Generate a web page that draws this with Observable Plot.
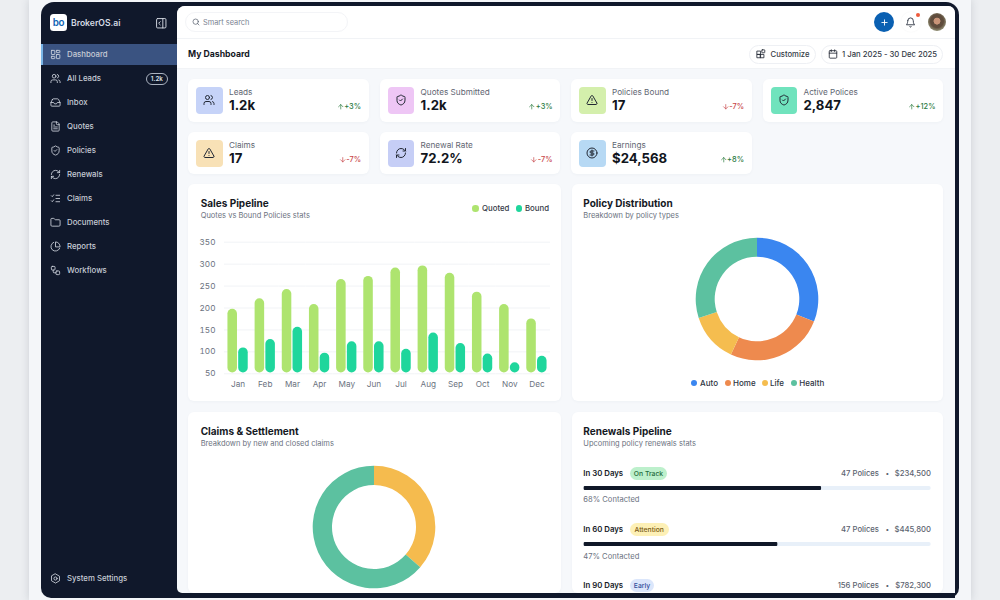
<!DOCTYPE html>
<html lang="en">
<head>
<meta charset="utf-8">
<title>BrokerOS.ai dashboard</title>
<script src="https://cdn.jsdelivr.net/npm/d3@7"></script>
<script src="https://cdn.jsdelivr.net/npm/@observablehq/plot@0.6"></script>
<style>
html,body{margin:0;padding:0;width:1000px;height:600px;overflow:hidden;background:#eceef1;font-family:Inter,"Noto Sans",sans-serif;-webkit-font-smoothing:antialiased}
#page{position:relative;width:1000px;height:600px;overflow:hidden}
.a{position:absolute;box-sizing:border-box}
.t{position:absolute;white-space:nowrap;transform:translateY(-50%);line-height:1}
.card{position:absolute;box-sizing:border-box;background:#fff;border-radius:6px;box-shadow:0 1px 3px rgba(30,50,90,.035)}
svg.i{position:absolute;fill:none;stroke:currentColor;stroke-width:2;stroke-linecap:round;stroke-linejoin:round}
.p{position:absolute;line-height:0}
.p svg{display:block;overflow:visible}
</style>
</head>
<body>
<div id="page"></div>
<script>
// ---------- chart data ----------
const months = ["Jan","Feb","Mar","Apr","May","Jun","Jul","Aug","Sep","Oct","Nov","Dec"];
const quoted = [197,221,242,208,265,272,291,296,279,236,208,175];
const bound = [109,128,156,97,123,123,106,143,119,95,75,90];
const salesSeries = ["Quoted","Bound"];
const salesColors = ["#aee46f","#1fd69c"];
const salesTicks = [50,100,150,200,250,300,350];

const policyTypes = ["Auto","Home","Life","Health"];
const policyShare = [31,26,13,30];
const policyColors = ["#3a86f0","#ee8a4e","#f5bd4f","#5cc1a0"];

const claimTypes = ["New","Closed"];
const claimShare = [36.4,63.6];
const claimColors = ["#f5bb4e","#5cc1a0"];

const renewalLabels = ["In 30 Days","In 60 Days","In 90 Days"];
const renewalStatus = ["On Track","Attention","Early"];
const renewalPolicies = ["47 Polices","47 Polices","156 Polices"];
const renewalAmounts = ["$234,500","$445,800","$782,300"];
const renewalContacted = ["68% Contacted","47% Contacted",""];
const renewalBars = [68.4,55.8];

const kpiLabels = ["Leads","Quotes Submitted","Policies Bound","Active Polices","Claims","Renewal Rate","Earnings"];
const kpiValues = ["1.2k","1.2k","17","2,847","17","72.2%","$24,568"];
const kpiDeltas = ["+3%","+3%","-7%","+12%","-7%","-7%","+8%"];
const navItems = ["Dashboard","All Leads","Inbox","Quotes","Policies","Renewals","Claims","Documents","Reports","Workflows"];

// ---------- icons ----------
const I = {
 users:'<path d="M16 21v-2a4 4 0 0 0-4-4H6a4 4 0 0 0-4 4v2"/><circle cx="9" cy="7" r="4"/><path d="M22 21v-2a4 4 0 0 0-3-3.87"/><path d="M16 3.13a4 4 0 0 1 0 7.75"/>',
 shield:'<path d="M20 13c0 5-3.5 7.5-7.66 8.95a1 1 0 0 1-.67-.01C7.5 20.5 4 18 4 13V6a1 1 0 0 1 1-1c2 0 4.5-1.2 6.24-2.72a1.17 1.17 0 0 1 1.52 0C14.51 3.81 17 5 19 5a1 1 0 0 1 1 1z"/><path d="m9 12 2 2 4-4"/>',
 warn:'<path d="m21.73 18-8-14a2 2 0 0 0-3.48 0l-8 14A2 2 0 0 0 4 21h16a2 2 0 0 0 1.73-3"/><path d="M12 9v4"/><path d="M12 17h.01"/>',
 refresh:'<path d="M3 12a9 9 0 0 1 9-9 9.75 9.75 0 0 1 6.74 2.74L21 8"/><path d="M21 3v5h-5"/><path d="M21 12a9 9 0 0 1-9 9 9.75 9.75 0 0 1-6.74-2.74L3 16"/><path d="M8 16H3v5"/>',
 dollar:'<circle cx="12" cy="12" r="10"/><path d="M16 8h-6a2 2 0 1 0 0 4h4a2 2 0 1 1 0 4H8"/><path d="M12 18V6"/>',
 grid:'<rect x="3" y="3" width="7.5" height="9" rx="1"/><rect x="14" y="3" width="7.5" height="5" rx="1"/><rect x="14" y="12" width="7.5" height="9" rx="1"/><rect x="3" y="16" width="7.5" height="5" rx="1"/>',
 inbox:'<polyline points="22 12 16 12 14 15 10 15 8 12 2 12"/><path d="M5.45 5.11 2 12v6a2 2 0 0 0 2 2h16a2 2 0 0 0 2-2v-6l-3.45-6.89A2 2 0 0 0 16.76 4H7.24a2 2 0 0 0-1.79 1.11z"/>',
 file:'<path d="M15 2H6a2 2 0 0 0-2 2v16a2 2 0 0 0 2 2h12a2 2 0 0 0 2-2V7Z"/><path d="M14 2v4a2 2 0 0 0 2 2h4"/><path d="M10 9H8"/><path d="M16 13H8"/><path d="M16 17H8"/>',
 list:'<path d="M13 5h8M13 12h8M13 19h8M3 6l2 2 3-4M3 17l2 2 3-4"/>',
 folder:'<path d="M20 20a2 2 0 0 0 2-2V8a2 2 0 0 0-2-2h-7.9a2 2 0 0 1-1.69-.9L9.6 3.9A2 2 0 0 0 7.93 3H4a2 2 0 0 0-2 2v13a2 2 0 0 0 2 2Z"/>',
 pie:'<path d="M21.21 15.89A10 10 0 1 1 8 2.83"/><path d="M22 12A10 10 0 0 0 12 2v10z"/>',
 flow:'<rect x="3" y="3" width="8" height="8" rx="2"/><path d="M7 11v4a2 2 0 0 0 2 2h4"/><rect x="13" y="13" width="8" height="8" rx="2"/>',
 gear:'<path d="M12 2l8.66 5v10L12 22l-8.66-5V7z"/><circle cx="12" cy="12" r="3.5"/>',
 search:'<circle cx="11" cy="11" r="8"/><path d="m21 21-4.3-4.3"/>',
 bell:'<path d="M6 8a6 6 0 0 1 12 0c0 7 3 9 3 9H3s3-2 3-9"/><path d="M10.3 21a1.94 1.94 0 0 0 3.4 0"/>',
 cal:'<rect x="3" y="4" width="18" height="18" rx="2"/><path d="M16 2v4M8 2v4M3 10h18"/>',
 panel:'<rect x="3" y="3" width="18" height="18" rx="2"/><path d="M15 3v18M10 9l-3 3 3 3"/>',
 cust:'<rect x="3" y="5" width="8" height="8"/><rect x="3" y="13" width="8" height="8"/><rect x="11" y="13" width="8" height="8"/><rect x="14" y="2" width="7" height="7" rx="1"/>',
 plus:'<path d="M5 12h14M12 5v14"/>',
 up:'<path d="M12 19V5M5 12l7-7 7 7"/>',
 down:'<path d="M12 5v14M19 12l-7 7-7-7"/>'
};
const page = document.getElementById("page");
const navy = "#10182b";
function box(x,y,w,h,css=""){const d=document.createElement("div");d.className="a";d.style.cssText=`left:${x}px;top:${y}px;width:${w}px;height:${h}px;${css}`;page.appendChild(d);return d;}
function card(x,y,w,h){const d=document.createElement("div");d.className="card";d.style.cssText=`left:${x}px;top:${y}px;width:${w}px;height:${h}px;`;page.appendChild(d);return d;}
function txt(x,cy,s,css="",right=false){const d=document.createElement("div");d.className="t";d.textContent=s;d.style.cssText=(right?`right:${1000-x}px;`:`left:${x}px;`)+`top:${cy+.7}px;`+css;page.appendChild(d);return d;}
function icon(name,x,y,size,color,sw=2){const ns="http://www.w3.org/2000/svg";const s=document.createElementNS(ns,"svg");s.setAttribute("class","i");s.setAttribute("viewBox","0 0 24 24");s.setAttribute("width",size);s.setAttribute("height",size);s.style.cssText=`left:${x}px;top:${y}px;color:${color};stroke-width:${sw}`;s.innerHTML=I[name];page.appendChild(s);return s;}
function place(el,x,y){const d=document.createElement("div");d.className="p";d.style.left=x+"px";d.style.top=y+"px";d.appendChild(el);page.appendChild(d);return d;}

// ---------- device frame ----------
box(29,0,942,600,"background:#f4f6f9;box-shadow:0 0 8px rgba(60,70,90,.18)");
box(41,2,918,596,`background:${navy};border-radius:13px 13px 10px 10px`);
box(177,6,778,587,"background:#f6f8fb;border-radius:8px 7px 0 5px;overflow:hidden");
box(177,6,778,33,"background:#fff;border-radius:8px 7px 0 0;border-bottom:1px solid #f1f3f6");
box(177,39,778,30,"background:#fff;border-bottom:1px solid #f1f3f6");

// ---------- sidebar ----------
box(50,13.5,17,17.5,"background:#fff;border-radius:3.5px");
txt(58.5,22,"bo","font-size:9.8px;font-weight:600;color:#0e63b4;letter-spacing:-.3px;transform:translate(-50%,-50%)");
txt(71,22,"BrokerOS.ai","font-size:8.6px;font-weight:600;color:#d6dbe4");
icon("panel",155,17,12.5,"#d6dbe4",1.8);
box(41,43.5,136,21.5,"background:#3a5381");
box(41,43.5,1.5,21.5,"background:#79b5e6");
const navIcons=["grid","users","inbox","file","shield","refresh","list","folder","pie","flow"];
navItems.forEach((n,i)=>{
  const cy=54+i*24;
  icon(navIcons[i],49.5,cy-5.5,11,"#d3d8e2",1.8);
  txt(67,cy,n,"font-size:7.8px;font-weight:500;color:#c7ccd6");
});
box(146,72.5,21.5,12,"border:1px solid #aab2c0;border-radius:6px");
txt(156.8,78,"1.2k","font-size:6.2px;font-weight:600;color:#dfe3ea;transform:translate(-50%,-50%)");
icon("gear",49.5,572.5,11,"#d3d8e2",1.8);
txt(67,578,"System Settings","font-size:7.8px;font-weight:500;color:#c7ccd6");

// ---------- top bar ----------
box(185,12,163,20,"border:1px solid #f3f4f7;border-radius:10px;background:#fff");
icon("search",192,18,8,"#4b5563",2);
txt(203,22,"Smart search","font-size:7.4px;color:#7b8391");
box(874,12,20,20,"background:#0a60b2;border-radius:50%");
icon("plus",879.5,17.5,9,"#fff",2.4);
box(901,12,20,20,"background:#fff;border-radius:50%;box-shadow:0 0 2px rgba(0,0,0,.05)");
icon("bell",905,16.5,11,"#2b3241",2);
box(915.5,12.6,4.4,4.4,"background:#ee5a3c;border-radius:50%");
box(928,13,18,18,"border-radius:50%;background:radial-gradient(circle at 50% 45%,#c99478 0 24%,#5f4c3c 28% 48%,#8d8a70 70%,#4c4437 100%)");
txt(188,53.5,"My Dashboard","font-size:8.7px;font-weight:700;color:#14181f");
box(749,45,67,19,"border:1px solid #eef0f4;border-radius:9.5px;background:#fff");
icon("cust",755.5,49,10,"#222834",2);
txt(770.5,54,"Customize","font-size:7.7px;font-weight:500;color:#333a46");
box(820.6,45,122.5,19,"border:1px solid #eef0f4;border-radius:9.5px;background:#fff");
icon("cal",828,49,10,"#222834",2);
txt(842,54,"1 Jan 2025 - 30 Dec 2025","font-size:7.7px;font-weight:500;color:#333a46");

// ---------- KPI cards ----------
const kpiIcons=["users","shield","warn","shield","warn","refresh","dollar"];
const kpiFill=["#c6d3f8","#eec6f5","#d4efac","#70e3bd","#f8e1b6","#c6cef6","#b7d9f4"];
const kpiX=[188,379.6,571,762.5];
const kpiY=[79,132];
kpiLabels.forEach((l,i)=>{
  const r=i<4?0:1,c=r?i-4:i,x=kpiX[c],y=kpiY[r];
  card(x,y,180.5,r?41.5:43);
  box(x+8,y+8,26.5,26.5,`background:${kpiFill[i]};border-radius:4px`);
  icon(kpiIcons[i],x+15.2,y+15.3,12,"#222834",2);
  txt(x+41,y+12.5,l,"font-size:8.2px;color:#5f6672");
  txt(x+41,y+26,kpiValues[i],"font-size:13.2px;font-weight:700;color:#12161d");
  const d=kpiDeltas[i],up=d[0]==="+",col=up?"#2b7a3f":"#c8464a";
  txt(x+173,y+27.5,d,`font-size:7.4px;font-weight:500;color:${col}`,true);
  icon(up?"up":"down",x+173-(d.length>3?28:up?24.5:22.5),y+24,7.5,col,2.2);
});

// ---------- chart cards ----------
const titleCss="font-size:10px;font-weight:650;color:#15191f";
const subCss="font-size:7.5px;color:#6b7280";
card(188,184,373,217); card(572,184,371,217);
card(188,412,373,181); card(572,412,371,181);

txt(200.7,202.2,"Sales Pipeline",titleCss);
txt(200.7,215.7,"Quotes vs Bound Policies stats",subCss);
const legPos=[[475.7,482],[519,525]];
salesSeries.forEach((n,i)=>{
  box(legPos[i][0]-3.3,208.5-3.3,6.6,6.6,`background:${salesColors[i]};border-radius:50%`);
  txt(legPos[i][1],208.3,n,"font-size:7.8px;font-weight:500;color:#333a46");
});

// Sales bar chart
const salesRows = months.flatMap((m,i)=>[
  {month:m,series:salesSeries[0],value:quoted[i]},
  {month:m,series:salesSeries[1],value:bound[i]}
]);
const salesFloor = salesTicks[0];
place(Plot.plot({
  width:373,height:170,
  marginLeft:36,marginRight:11,marginTop:11.7,marginBottom:26.7,
  style:{background:"transparent",fontFamily:"Inter, sans-serif",fontSize:"8.2px",color:"#6b7280"},
  fx:{domain:months,padding:0,round:false,label:null,tickSize:0,tickPadding:7,axis:"bottom"},
  x:{domain:salesSeries,paddingInner:.112,paddingOuter:.32,round:false,axis:null,label:null},
  y:{domain:[salesFloor,salesTicks[salesTicks.length-1]],ticks:salesTicks,tickSize:0,tickPadding:9,label:null},
  color:{domain:salesSeries,range:salesColors},
  marks:[
    Plot.gridY(salesTicks,{stroke:"#f1f3f6",strokeOpacity:1}),
    Plot.barY(salesRows,{fx:"month",x:"series",y1:()=>salesFloor,y2:"value",fill:"series",rx:4.75,insetBottom:.8})
  ]
}),188,230);

// Donuts: stacked bars whose x scale maps share to angle, drawn as arcs
function donut(names,shares,colors,size,outer,inner){
  const rows=names.map((n,i)=>({name:n,share:shares[i]}));
  return Plot.plot({
    width:size,height:size,margin:0,
    style:{background:"transparent"},
    x:{domain:[0,d3.sum(shares)],range:[0,2*Math.PI],axis:null},
    color:{domain:names,range:colors},
    marks:[Plot.barX(rows,{x:"share",fill:"name",render(index,scales,values,dim){
      const g=d3.create("svg:g").attr("transform",`translate(${dim.width/2},${dim.height/2})`);
      const arc=d3.arc().innerRadius(inner).outerRadius(outer);
      for(const i of index) g.append("path")
        .attr("d",arc({startAngle:values.x1[i],endAngle:values.x2[i]}))
        .attr("fill",values.fill[i]);
      return g.node();
    }})]
  });
}
txt(583.3,202.2,"Policy Distribution",titleCss);
txt(583.3,215.7,"Breakdown by policy types",subCss);
place(donut(policyTypes,policyShare,policyColors,130,61.3,42.3),757-65,299-65);
const pLeg=[[694.3,700],[727.5,733],[764.7,770],[794,799.3]];
policyTypes.forEach((n,i)=>{
  box(pLeg[i][0]-3,383.2-3,6,6,`background:${policyColors[i]};border-radius:50%`);
  txt(pLeg[i][1],382.6,n,"font-size:8px;font-weight:500;color:#2e343f");
});

txt(200.7,430.2,"Claims & Settlement",titleCss);
txt(200.7,443.2,"Breakdown by new and closed claims",subCss);
place(donut(claimTypes,claimShare,claimColors,130,61.3,42),374.3-65,526.7-65);

// Renewals
txt(583.3,430.2,"Renewals Pipeline",titleCss);
txt(583.3,443.2,"Upcoming policy renewals stats",subCss);
const pill=[["#bdf0cc","#1f6b3b",37],["#fdf0b6","#7a5a10",38.5],["#dbe6fb","#35509c",24]];
renewalLabels.forEach((l,i)=>{
  const cy=473.5+i*56.1;
  txt(583.3,cy,l,"font-size:7.8px;font-weight:600;color:#15191f");
  box(630,cy-6.5,pill[i][2],13,`background:${pill[i][0]};border-radius:6.5px`);
  txt(630+pill[i][2]/2,cy,renewalStatus[i],`font-size:6.8px;font-weight:500;color:${pill[i][1]};transform:translate(-50%,-50%)`);
  txt(931,cy,renewalAmounts[i],"font-size:7.7px;font-weight:500;color:#5c6370",true);
  txt(885.5,cy,"•","font-size:6.5px;color:#5c6370");
  txt(879,cy,renewalPolicies[i],"font-size:7.7px;font-weight:500;color:#5c6370",true);
  if(renewalContacted[i]) txt(583.3,cy+26.2,renewalContacted[i],"font-size:7.6px;color:#6b7280");
  if(i<renewalBars.length){
    place(Plot.plot({
      width:348.4,height:4,margin:0,
      style:{background:"transparent"},
      x:{domain:[0,100],axis:null},
      marks:[
        Plot.barX([100],{x:d=>d,fill:"#e8f0f9",rx:2}),
        Plot.barX([renewalBars[i]],{x:d=>d,fill:"#101828",rx:1})
      ]
    }),583.3,cy+12.2);
  }
});

// ---------- frame edge over overflowing content ----------
box(177,593,778,5,`background:${navy}`);
box(41,598,918,2,"background:#f4f6f9");
</script>
</body>
</html>
